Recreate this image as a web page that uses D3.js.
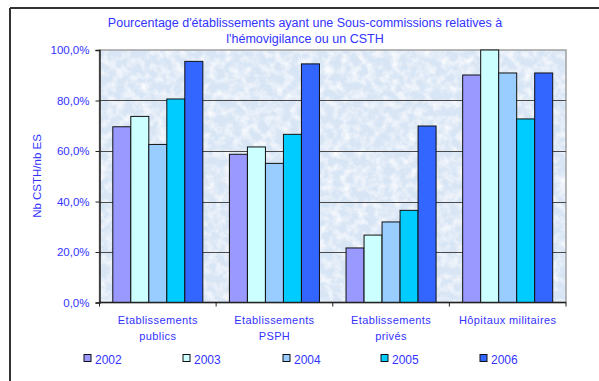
<!DOCTYPE html>
<html>
<head>
<meta charset="utf-8">
<script src="https://cdn.jsdelivr.net/npm/d3@7"></script>
<style>
  html, body { margin: 0; padding: 0; background: #fff; }
  svg { display: block; font-family: Arial, "Liberation Sans", sans-serif; }
</style>
</head>
<body>
<svg id="chart" width="599" height="381"></svg>
<script>
// Établissements et part ayant une sous-commission / un CSTH, par année
const categories = [["Etablissements", "publics"], ["Etablissements", "PSPH"], ["Etablissements", "privés"], ["Hôpitaux militaires"]];
const years = ["2002", "2003", "2004", "2005", "2006"];
const values2002 = [69.6, 58.7, 21.6, 90.1];
const values2003 = [73.7, 61.6, 26.7, 100.0];
const values2004 = [62.6, 55.1, 31.9, 90.9];
const values2005 = [80.6, 66.6, 36.5, 72.7];
const values2006 = [95.5, 94.5, 69.9, 90.9];
const yTicks = [0, 20, 40, 60, 80, 100];
const colors = ["#9999FF", "#CCFFFF", "#99CCFF", "#00CCFF", "#3366FF"];
const titleLines = ["Pourcentage d'établissements ayant une Sous-commissions relatives à", "l'hémovigilance ou un CSTH"];
const yTitle = "Nb CSTH/nb ES";

const series = [values2002, values2003, values2004, values2005, values2006];
const textBlue = "#3333FF";

const svg = d3.select("#chart");

// Outer frame (top and left edges visible)
svg.append("line").attr("x1", 10).attr("x2", 599).attr("y1", 8).attr("y2", 8)
  .attr("stroke", "#333").attr("stroke-width", 2);
svg.append("line").attr("x1", 10).attr("x2", 10).attr("y1", 8).attr("y2", 381)
  .attr("stroke", "#333").attr("stroke-width", 2);

const plot = { left: 99.5, right: 566, top: 50, bottom: 302.5 };

const x0 = d3.scaleBand().domain(d3.range(categories.length))
  .range([plot.left, plot.right]).paddingInner(0.228).paddingOuter(0.114);
const x1 = d3.scaleBand().domain(years).range([0, x0.bandwidth()]);
const y = d3.scaleLinear().domain([0, 100]).range([plot.bottom, plot.top]);

// Textured light-blue plot background
const defs = svg.append("defs");
const filt = defs.append("filter").attr("id", "grain").attr("x", 0).attr("y", 0).attr("width", 1).attr("height", 1);
filt.append("feTurbulence").attr("type", "fractalNoise").attr("baseFrequency", 0.12).attr("numOctaves", 3).attr("seed", 7).attr("result", "noise");
filt.append("feColorMatrix").attr("in", "noise").attr("type", "matrix")
  .attr("values", "0 0 0 0 1  0 0 0 0 1  0 0 0 0 1  1.8 0 0 0 -0.7").attr("result", "speck");
filt.append("feComposite").attr("in", "speck").attr("in2", "SourceGraphic").attr("operator", "over");

svg.append("rect")
  .attr("x", plot.left).attr("y", plot.top)
  .attr("width", plot.right - plot.left).attr("height", plot.bottom - plot.top)
  .attr("fill", "#d8e5f5").attr("filter", "url(#grain)");
svg.append("rect")
  .attr("x", plot.left).attr("y", plot.top)
  .attr("width", plot.right - plot.left).attr("height", plot.bottom - plot.top)
  .attr("fill", "none").attr("stroke", "#a0a0a0").attr("stroke-width", 1.5);

// Gridlines
svg.append("g").selectAll("line").data(yTicks.filter(t => t > 0 && t < 100)).join("line")
  .attr("x1", plot.left).attr("x2", plot.right)
  .attr("y1", d => Math.round(y(d)) + 0.5).attr("y2", d => Math.round(y(d)) + 0.5)
  .attr("stroke", "#4a4a4a").attr("stroke-width", 1);

// Bars
const groups = svg.append("g").selectAll("g").data(categories).join("g")
  .attr("transform", (d, i) => `translate(${x0(i)},0)`);
groups.selectAll("rect").data((d, i) => years.map((yr, k) => ({ yr, k, v: series[k][i] }))).join("rect")
  .attr("x", d => x1(d.yr)).attr("width", x1.bandwidth())
  .attr("y", d => y(d.v)).attr("height", d => y(0) - y(d.v))
  .attr("fill", d => colors[d.k]).attr("stroke", "#111").attr("stroke-width", 1);

// Y axis
const yAxis = d3.axisLeft(y).tickValues(yTicks).tickSize(4).tickPadding(6)
  .tickFormat(d => d.toFixed(1).replace(".", ",") + "%");
const yg = svg.append("g").attr("transform", `translate(${plot.left},0)`).call(yAxis);
yg.select(".domain").attr("stroke", "#222").attr("stroke-width", 1.5);
yg.selectAll(".tick line").attr("stroke", "#222");
yg.selectAll(".tick text").attr("fill", textBlue).attr("font-size", 11.5);

// X axis
const xTickPos = d3.range(categories.length + 1).map(i => plot.left + i * (plot.right - plot.left) / categories.length);
svg.append("line").attr("x1", plot.left).attr("x2", plot.right)
  .attr("y1", plot.bottom).attr("y2", plot.bottom).attr("stroke", "#222").attr("stroke-width", 1.5);
svg.append("g").selectAll("line").data(xTickPos).join("line")
  .attr("x1", d => d).attr("x2", d => d).attr("y1", plot.bottom).attr("y2", plot.bottom + 4)
  .attr("stroke", "#222");

const catLabels = svg.append("g").selectAll("text").data(categories).join("text")
  .attr("x", (d, i) => x0(i) + x0.bandwidth() / 2)
  .attr("y", 324).attr("text-anchor", "middle")
  .attr("fill", textBlue).attr("font-size", 11).attr("letter-spacing", 0.4);
catLabels.selectAll("tspan").data(d => d).join("tspan")
  .attr("x", function () { return d3.select(this.parentNode).attr("x"); })
  .attr("dy", (d, i) => i === 0 ? 0 : 16).text(d => d);

// Title
svg.append("text").attr("x", 305).attr("y", 27).attr("text-anchor", "middle")
  .attr("fill", textBlue).attr("font-size", 12.5)
  .selectAll("tspan").data(titleLines).join("tspan")
  .attr("x", 305).attr("dy", (d, i) => i === 0 ? 0 : 16).text(d => d);

// Y title
svg.append("text").attr("transform", `translate(41,176) rotate(-90)`)
  .attr("text-anchor", "middle").attr("fill", textBlue).attr("font-size", 11.5).text(yTitle);

// Legend
const legendX = [84, 183, 283, 381, 480];
const leg = svg.append("g").selectAll("g").data(years).join("g")
  .attr("transform", (d, i) => `translate(${legendX[i]},359)`);
leg.append("rect").attr("x", 0).attr("y", -4.5).attr("width", 7).attr("height", 7)
  .attr("fill", (d, i) => colors[i]).attr("stroke", "#111").attr("stroke-width", 1);
leg.append("text").attr("x", 11).attr("y", 4.5).attr("fill", textBlue).attr("font-size", 12).text(d => d);
</script>
</body>
</html>
